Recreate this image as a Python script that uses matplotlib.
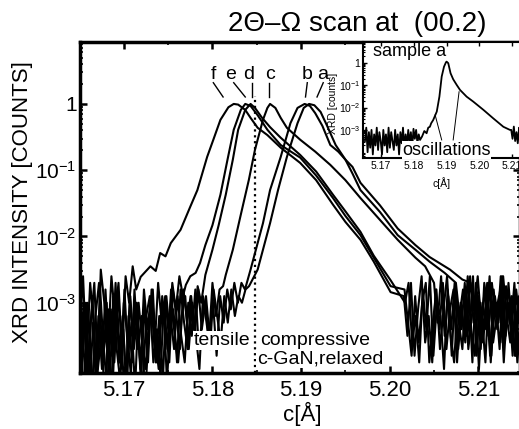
import numpy as np
import matplotlib
matplotlib.use("Agg")
import matplotlib.pyplot as plt
from matplotlib.ticker import FixedLocator, LogLocator, NullFormatter, FuncFormatter, MultipleLocator

plt.rcParams['font.family'] = ['Liberation Sans', 'DejaVu Sans']
plt.rcParams['mathtext.fontset'] = 'custom'
plt.rcParams['mathtext.rm'] = 'Liberation Sans'
plt.rcParams['mathtext.it'] = 'Liberation Sans:italic'
plt.rcParams['mathtext.bf'] = 'Liberation Sans:bold'

# --- data (c in Angstrom, intensity as log10 of normalised counts) ---
SCAN_STEP = 0.0004
left_scan = 5.1650 + SCAN_STEP * np.arange(48)   # noisy low-c tail
right_scan = 5.2016 + SCAN_STEP * np.arange(34)  # noisy high-c tail
scan_offset = [0.0, 0.00007, 0.00013, 0.00020, 0.00027, 0.00033]  # f..a

f_left = [-3.5, -2.6, -3.9, -2.7, -3.3, -4.2, -2.5, -3.0, -3.7, -2.6, -3.2, -2.7,
          -3.8, -2.6, -3.0, -2.45, -2.8]
f_x = [5.1719, 5.1730, 5.1736, 5.1741, 5.1747, 5.1753, 5.1764, 5.1775, 5.1783, 5.1794,
       5.1801, 5.1809, 5.1818, 5.1824, 5.1829, 5.1837, 5.1843, 5.1851, 5.1862, 5.1877,
       5.1899, 5.1917, 5.1936, 5.1950, 5.1967, 5.1982, 5.2001]
f_log = [-2.61, -2.45, -2.52, -2.25, -2.30, -2.10, -1.90, -1.55, -1.30, -0.80,
         -0.54, -0.24, -0.05, 0.0, -0.01, -0.09, -0.21, -0.36, -0.47, -0.66,
         -0.89, -1.15, -1.52, -1.78, -2.05, -2.38, -2.84]
f_right = [-2.9, -3.5, -2.7, -3.8, -3.1, -2.6, -3.6, -3.2, -3.9, -2.8, -3.4, -2.7,
           -3.7, -3.1, -2.8, -3.9, -3.0, -3.5, -2.6, -3.4, -3.8, -2.9, -3.2, -3.9,
           -2.7, -3.4, -3.0, -3.7, -2.6, -3.2, -3.6, -2.9, -3.9, -3.2]

e_left = [-3.9, -3.0, -4.3, -3.3, -2.7, -4.0, -3.5, -4.5, -3.1, -3.8, -2.7, -3.9,
          -3.2, -4.2, -2.9, -3.6, -3.0, -4.0, -2.8, -3.4, -2.9, -3.7, -2.7, -3.3,
          -2.9, -3.5, -2.7, -3.1, -2.6, -2.9]
e_x = [5.1770, 5.1775, 5.1781, 5.1786, 5.1792, 5.1800, 5.1809, 5.1817, 5.1824, 5.1832,
       5.1837, 5.1843, 5.1851, 5.1862, 5.1877, 5.1899, 5.1917, 5.1936, 5.1950, 5.1967,
       5.1982, 5.2001]
e_log = [-2.73, -2.60, -2.55, -2.40, -2.13, -1.83, -1.37, -0.84, -0.39, -0.09,
         0.0, -0.03, -0.17, -0.39, -0.62, -0.81, -1.08, -1.42, -1.69, -1.98,
         -2.32, -2.75]
e_right = [-2.8, -3.3, -3.8, -2.9, -3.6, -3.0, -2.7, -3.9, -3.3, -2.8, -3.7, -3.1,
           -2.6, -3.5, -3.9, -3.0, -3.4, -2.7, -3.7, -3.2, -2.9, -4.0, -3.0, -3.4,
           -2.6, -3.6, -3.2, -2.8, -3.9, -3.0, -3.4, -2.7, -3.7, -3.0]

d_left = [-3.6, -4.4, -3.0, -3.9, -4.6, -3.2, -4.0, -2.8, -3.8, -4.3, -3.0, -3.9,
          -3.4, -4.4, -2.9, -3.7, -3.2, -4.2, -3.0, -3.9, -2.8, -3.5, -4.0, -2.9,
          -3.4, -3.9, -2.8, -3.2, -3.7, -2.8, -3.3, -2.9, -3.4, -2.75, -3.0]
d_x = [5.1792, 5.1800, 5.1807, 5.1815, 5.1823, 5.1829, 5.1837, 5.1843, 5.1848, 5.1856,
       5.1865, 5.1877, 5.1899, 5.1917, 5.1936, 5.1950, 5.1967, 5.1982, 5.2001]
d_log = [-2.58, -2.20, -1.83, -1.37, -0.84, -0.39, -0.09, 0.0, -0.06, -0.21,
         -0.35, -0.51, -0.77, -1.02, -1.37, -1.62, -1.93, -2.29, -2.66]
d_right = [-3.0, -2.7, -3.6, -3.2, -3.9, -2.8, -3.4, -2.6, -3.8, -3.0, -3.2, -4.0,
           -2.8, -3.4, -2.7, -3.7, -3.1, -3.6, -2.8, -3.9, -2.7, -3.2, -3.6, -3.0,
           -3.8, -2.8, -3.4, -2.6, -3.6, -3.2, -2.9, -3.8, -3.0, -3.4]

c_left = [-4.1, -3.1, -3.7, -4.5, -3.2, -2.7, -3.9, -3.4, -4.3, -2.9, -3.7, -4.2,
          -3.0, -3.5, -4.1, -2.8, -3.7, -3.2, -4.5, -3.4, -3.0, -3.9, -3.2, -4.2,
          -2.9, -3.5, -3.1, -3.9, -2.8, -3.3, -3.7, -2.9, -3.5, -2.8, -3.4, -3.0,
          -3.6, -2.7, -3.2, -2.8, -2.75]
c_x = [5.1815, 5.1823, 5.1832, 5.1841, 5.1848, 5.1857, 5.1862, 5.1865, 5.1871, 5.1877,
       5.1884, 5.1899, 5.1916, 5.1933, 5.1950, 5.1967, 5.1989, 5.2009, 5.2029, 5.2040]
c_log = [-2.58, -2.20, -1.67, -1.15, -0.69, -0.24, -0.06, 0.0, -0.06, -0.21,
         -0.36, -0.54, -0.72, -0.92, -1.15, -1.42, -1.75, -2.05, -2.32, -2.45]
c_right = [-2.7, -3.3, -2.6, -3.5, -2.9, -3.8, -2.7, -3.3, -3.7, -2.8, -3.5, -2.6,
           -3.8, -3.0, -3.4, -2.7, -3.9, -3.0, -3.3, -2.8, -3.6, -2.7, -3.4, -3.8,
           -2.9, -3.2]

b_left = [-3.2, -4.2, -3.7, -2.9, -4.4, -3.4, -3.9, -3.0, -4.5, -3.6, -3.1, -4.0,
          -2.8, -3.8, -3.3, -4.3, -3.0, -3.6, -4.0, -3.2, -2.8, -3.9, -3.4, -3.0,
          -4.2, -3.2, -3.7, -2.9, -3.5, -3.9, -3.0, -3.5, -2.8, -3.7, -3.2, -2.9,
          -3.5, -3.0, -3.8, -2.9, -3.3, -2.8, -3.1, -2.7, -3.0, -2.7, -2.8]
b_x = [5.1843, 5.1848, 5.1857, 5.1865, 5.1877, 5.1888, 5.1896, 5.1904, 5.1910, 5.1916,
       5.1924, 5.1933, 5.1942, 5.1950, 5.1958, 5.1967, 5.1989, 5.2009, 5.2029, 5.2045,
       5.2062]
b_log = [-2.50, -2.25, -1.80, -1.30, -0.80, -0.29, -0.06, 0.0, -0.03, -0.14,
         -0.33, -0.62, -0.72, -0.84, -1.05, -1.30, -1.63, -1.98, -2.20, -2.38,
         -2.55]
b_right = [-2.7, -3.2, -2.8, -3.5, -2.6, -3.3, -2.9, -3.7, -2.7, -3.1, -3.8, -2.9,
           -3.3, -2.6, -3.5, -3.0, -3.8, -2.8, -3.3, -2.9]

a_left = [-3.8, -3.0, -4.4, -3.3, -4.0, -2.8, -3.7, -4.3, -3.1, -3.9, -2.9, -3.5,
          -4.6, -3.2, -3.9, -3.0, -3.7, -4.3, -3.2, -2.9, -3.9, -3.4, -4.1, -3.0,
          -3.7, -2.8, -3.5, -3.9, -3.2, -2.9, -3.7, -3.0, -3.5, -4.0, -2.9, -3.3,
          -3.7, -2.8, -3.2, -3.6, -2.9, -3.3, -2.8, -3.2, -2.9, -3.0, -2.8, -2.75]
a_x = [5.1851, 5.1856, 5.1865, 5.1874, 5.1884, 5.1896, 5.1903, 5.1909, 5.1915, 5.1922,
       5.1929, 5.1939, 5.1950, 5.1958, 5.1967, 5.1989, 5.2009, 5.2029, 5.2045, 5.2068,
       5.2082]
a_log = [-2.50, -2.25, -1.80, -1.30, -0.80, -0.29, -0.06, 0.0, -0.02, -0.12,
         -0.32, -0.62, -0.84, -0.95, -1.19, -1.53, -1.88, -2.13, -2.31, -2.50,
         -2.65]
a_right = [-2.7, -3.1, -2.6, -3.3, -2.8, -3.5, -2.7, -3.2, -2.9, -3.6, -2.75, -3.3,
           -2.9, -3.5, -2.8, -3.1]

# inset: sample a on its own
inset_left_scan = 5.1651 + SCAN_STEP * np.arange(42)
inset_right_scan = 5.2097 + SCAN_STEP * np.arange(12)
inset_left = [-3.5, -2.9, -4.0, -3.1, -3.8, -3.0, -4.1, -3.2, -3.7, -2.9, -3.9, -3.1,
              -3.5, -4.1, -3.0, -3.7, -3.2, -4.0, -2.9, -3.8, -3.1, -3.5, -3.9, -3.0,
              -3.7, -3.2, -4.1, -3.1, -3.6, -2.9, -3.8, -3.2, -3.7, -3.0, -3.6, -3.1,
              -3.8, -2.95, -3.4, -3.0, -3.6, -3.2]
inset_x = [5.1819, 5.1825, 5.1832, 5.1839, 5.1844, 5.1849, 5.1853, 5.1859, 5.1870, 5.1878,
           5.1885, 5.1892, 5.1898, 5.1900, 5.1905, 5.1912, 5.1920, 5.1931, 5.1941, 5.1961,
           5.1981, 5.2012, 5.2042, 5.2073, 5.2093]
inset_log = [-3.45, -3.3, -3.05, -3.15, -2.9, -2.86, -2.7, -2.56, -2.18, -1.51,
             -0.61, -0.17, 0.03, 0.06, -0.01, -0.46, -0.73, -0.99, -1.21, -1.51,
             -1.73, -2.1, -2.48, -2.86, -3.0]
inset_right = [-3.0, -3.4, -2.85, -3.5, -3.1, -3.6, -2.9, -3.4, -3.1, -3.5, -3.0, -3.2]

relaxed_c = 5.1848
peak_names = ['f', 'e', 'd', 'c', 'b', 'a']
x_ticks = [5.17, 5.18, 5.19, 5.20, 5.21]
y_ticks = [1e-3, 1e-2, 1e-1, 1]


def trace(left, mid_x, mid_log, right, lscan, rscan, shift=0.0):
    x = np.concatenate([lscan[:len(left)] + shift, mid_x,
                        rscan[len(rscan) - len(right):] + shift])
    y = 10.0 ** np.concatenate([left, mid_log, right])
    return x, y


def log_label(v, pos):
    e = int(round(np.log10(v)))
    return '1' if e == 0 else r'$10^{%d}$' % e


fig = plt.figure(figsize=(5.19, 4.29), dpi=100)
ax = fig.add_axes([0.1532, 0.1305, 0.8487, 0.7716])
ax.set_yscale('log')

samples = [(f_left, f_x, f_log, f_right), (e_left, e_x, e_log, e_right),
           (d_left, d_x, d_log, d_right), (c_left, c_x, c_log, c_right),
           (b_left, b_x, b_log, b_right), (a_left, a_x, a_log, a_right)]
for (left, mx, ml, right), off in zip(samples, scan_offset):
    x, y = trace(left, mx, ml, right, left_scan, right_scan, off)
    ax.plot(x, y, color='k', lw=1.5)

ax.set_xlim(5.1650, 5.2147)
ax.set_ylim(8.7e-5, 8.6)
ax.axvline(relaxed_c, ymax=0.837, color='k', ls=':', lw=1.6)

ax.xaxis.set_major_locator(FixedLocator(x_ticks))
ax.xaxis.set_major_formatter(FuncFormatter(lambda v, p: '%.2f' % v))
ax.xaxis.set_minor_locator(MultipleLocator(0.005))
ax.yaxis.set_major_locator(FixedLocator(y_ticks))
ax.yaxis.set_major_formatter(FuncFormatter(log_label))
ax.yaxis.set_minor_locator(LogLocator(base=10, subs=np.arange(2, 10), numticks=20))
ax.yaxis.set_minor_formatter(NullFormatter())
ax.tick_params(which='both', direction='in', top=True, right=True)
ax.tick_params(axis='x', labelsize=16, pad=5)
ax.tick_params(axis='y', labelsize=15, pad=2)
ax.tick_params(which='major', length=5, width=1.8)
ax.tick_params(which='minor', length=2.5, width=1.2)
for s in ax.spines.values():
    s.set_linewidth(2.5)

# peak labels with pointer lines
label_x = [5.1801, 5.1820, 5.1841, 5.1865, 5.1907, 5.1924]
line_top = [5.1801, 5.1824, 5.1845, 5.1864, 5.1907, 5.1925]
line_bot = [5.1812, 5.1837, 5.1845, 5.1864, 5.1905, 5.1918]
for name, lx, x0, x1 in zip(peak_names, label_x, line_top, line_bot):
    ax.text(lx, 10 ** 0.37, name, ha='center', va='baseline', fontsize=14)
    ax.plot([x0, x1], [10 ** 0.32, 10 ** 0.105], color='k', lw=1.0)

box = dict(facecolor='white', edgecolor='none', pad=0.5)
ax.text(5.1843, 10 ** -3.635, 'tensile', ha='right', va='baseline', fontsize=14,
        bbox=box, zorder=5)
ax.text(5.1854, 10 ** -3.635, 'compressive', ha='left', va='baseline', fontsize=14,
        bbox=box, zorder=5)
ax.text(5.1850, 10 ** -3.91, 'c-GaN,relaxed', ha='left', va='baseline', fontsize=14,
        bbox=box, zorder=5)

fig.text(357 / 519, 0.945, '2\u0398\u2013\u03a9 scan at  (00.2)', ha='center',
         va='center', fontsize=20)
fig.text(23 / 519, 0.53, 'XRD INTENSITY [COUNTS]', rotation=90, ha='center',
         va='center', fontsize=16)
fig.text(302 / 519, 3 / 429, 'c[\u00c5]', ha='center', va='bottom', fontsize=16)

# inset
ax_in = fig.add_axes([0.6994, 0.6317, 0.3191, 0.2704])
ax_in.set_yscale('log')
xi, yi = trace(inset_left, inset_x, inset_log, inset_right, inset_left_scan, inset_right_scan)
ax_in.plot(xi, yi, color='k', lw=1.3)
ax_in.set_xlim(5.1645, 5.2150)
ax_in.set_ylim(5.5e-5, 8.7)
ax_in.xaxis.set_major_locator(FixedLocator(x_ticks))
ax_in.xaxis.set_major_formatter(FuncFormatter(lambda v, p: '%.2f' % v))
ax_in.yaxis.set_major_locator(FixedLocator(y_ticks))
ax_in.yaxis.set_major_formatter(FuncFormatter(log_label))
ax_in.yaxis.set_minor_locator(LogLocator(base=10, subs=np.arange(2, 10), numticks=20))
ax_in.yaxis.set_minor_formatter(NullFormatter())
ax_in.tick_params(which='both', direction='in', top=True, right=True, labelsize=7.5, pad=2)
ax_in.tick_params(which='major', length=3, width=1.0)
ax_in.tick_params(which='minor', length=1.5, width=0.8)
for s in ax_in.spines.values():
    s.set_linewidth(1.5)

ax_in.text(0.06, 0.88, 'sample a', transform=ax_in.transAxes, fontsize=13,
           ha='left', va='baseline')
ax_in.text(0.235, 0.03, 'oscillations', transform=ax_in.transAxes, fontsize=13,
           ha='left', va='baseline', bbox=dict(facecolor='white', edgecolor='none', pad=0.3),
           zorder=5)
ax_in.plot([5.1885, 5.1865], [10 ** -3.45, 10 ** -2.33], color='k', lw=0.7)
ax_in.plot([5.1920, 5.1938], [10 ** -3.45, 10 ** -1.29], color='k', lw=0.7)
ax_in.text(0.477, -0.215, 'c[\u00c5]', transform=ax_in.transAxes, fontsize=7.5,
           ha='center', va='center')
ax_in.text(-0.18, 0.47, 'XRD [counts]', transform=ax_in.transAxes, fontsize=7.5,
           rotation=90, ha='center', va='center')

fig.savefig('out.png', dpi=100)
